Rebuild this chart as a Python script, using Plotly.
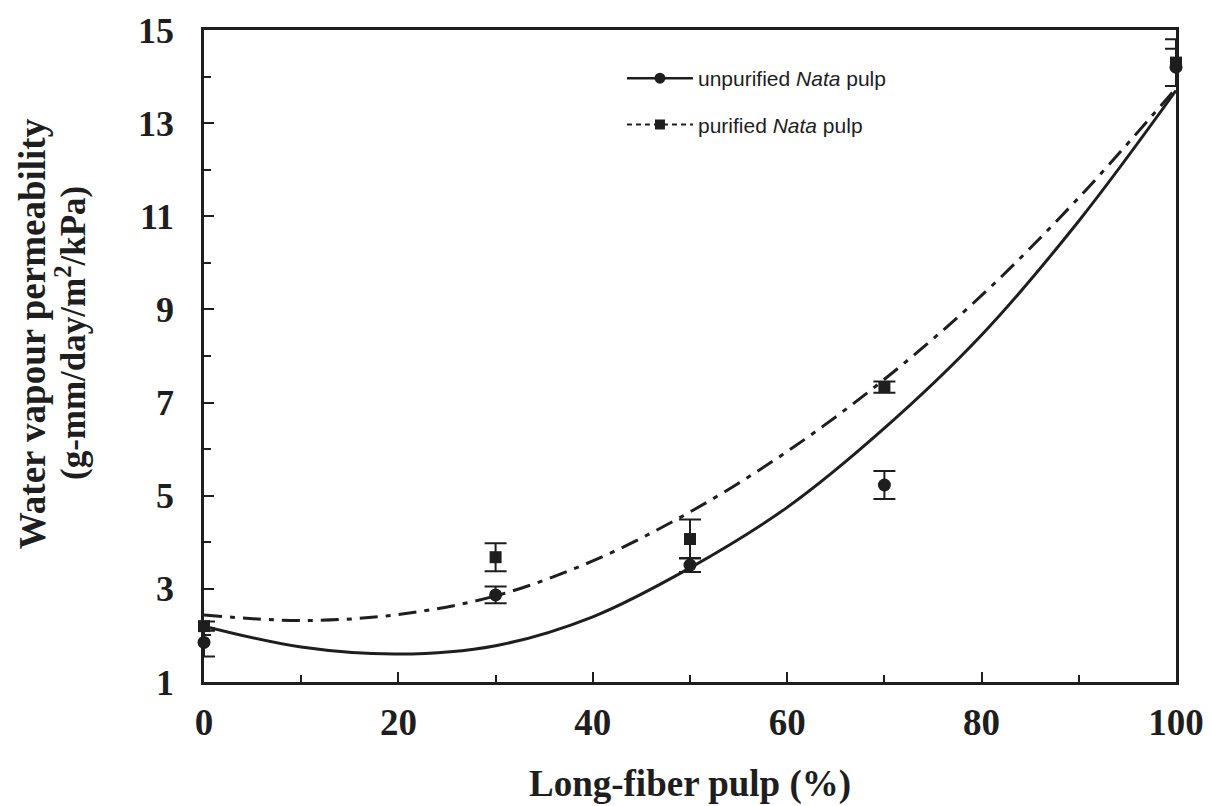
import plotly.graph_objects as go

# measured points
x_pts = [0, 30, 50, 70, 100]
unpurified = [1.85, 2.87, 3.51, 5.23, 14.2]
unpurified_err = [0.3, 0.18, 0.15, 0.3, 0.4]
purified = [2.2, 3.68, 4.07, 7.33, 14.3]
purified_err = [0.1, 0.3, 0.42, 0.12, 0.5]

# fitted curves
x_fit = [0, 10, 20, 30, 40, 50, 60, 70, 80, 90, 100]
unpurified_fit = [2.2, 1.75, 1.6, 1.78, 2.4, 3.45, 4.75, 6.45, 8.45, 10.9, 13.7]
purified_fit = [2.44, 2.32, 2.45, 2.85, 3.6, 4.65, 5.95, 7.5, 9.3, 11.4, 13.75]

x_ticks = [0, 20, 40, 60, 80, 100]
y_ticks = [1, 3, 5, 7, 9, 11, 13, 15]
y_title_lines = ["Water vapour permeability", "(g-mm/day/m<sup>2</sup>/kPa)"]

INK = "#1e1e1e"
SERIF = "Liberation Serif, Times New Roman, serif"
SANS = "Liberation Sans, Arial, sans-serif"

fig = go.Figure()

fig.add_trace(go.Scatter(x=x_fit, y=purified_fit, mode="lines", line=dict(color=INK, width=3, dash="18px,8px,5px,8px"),
                         line_shape="spline", showlegend=False, hoverinfo="skip"))
fig.add_trace(go.Scatter(x=x_fit, y=unpurified_fit, mode="lines", line=dict(color=INK, width=3),
                         line_shape="spline", showlegend=False, hoverinfo="skip"))

fig.add_trace(go.Scatter(x=x_pts, y=unpurified, mode="markers", cliponaxis=False,
                         marker=dict(symbol="circle", size=13, color=INK),
                         error_y=dict(type="data", array=unpurified_err, color=INK, thickness=2, width=11),
                         showlegend=False))
fig.add_trace(go.Scatter(x=x_pts, y=purified, mode="markers", cliponaxis=False,
                         marker=dict(symbol="square", size=12, color=INK),
                         error_y=dict(type="data", array=purified_err, color=INK, thickness=2, width=11),
                         showlegend=False))

# legend entries
fig.add_trace(go.Scatter(x=[None], y=[None], mode="lines+markers", name="unpurified <i>Nata</i> pulp",
                         legendgroup="a",
                         line=dict(color=INK, width=2.5), marker=dict(symbol="circle", size=11, color=INK)))
fig.add_trace(go.Scatter(x=[None], y=[None], mode="lines+markers", name="purified <i>Nata</i> pulp",
                         legendgroup="b",
                         line=dict(color=INK, width=2, dash="5px,4px"), marker=dict(symbol="square", size=10, color=INK)))

fig.update_layout(
    width=1205, height=798,
    margin=dict(l=196, r=37, t=22, b=124),
    paper_bgcolor="white", plot_bgcolor="white",
    showlegend=True,
    legend=dict(x=0.43, y=0.957, xanchor="left", yanchor="top", bgcolor="rgba(0,0,0,0)",
                font=dict(family=SANS, size=21, color=INK), tracegroupgap=16, itemwidth=66),
)

# y-axis title, two lines placed separately
for i, (line, xpos) in enumerate(zip(y_title_lines, [-0.177, -0.137])):
    fig.add_annotation(text="<b>" + line + "</b>", xref="paper", yref="paper", x=xpos, y=0.535,
                       xanchor="center", yanchor="middle", textangle=-90, showarrow=False,
                       font=dict(family=SERIF, size=37 if i == 0 else 35, color=INK))

fig.update_xaxes(range=[0, 100], tickvals=x_ticks, ticks="inside", ticklen=10, tickwidth=2, tickcolor=INK,
                 minor=dict(dtick=10, ticks="inside", ticklen=7, tickwidth=1.5, tickcolor=INK),
                 showline=True, linecolor=INK, linewidth=2.5, mirror=True, showgrid=False, zeroline=False,
                 ticklabelstandoff=6, automargin=False,
                 tickfont=dict(family=SERIF, size=37, color=INK, weight="bold"),
                 title=dict(text="<b>Long-fiber pulp (%)</b>", font=dict(family=SERIF, size=37, color=INK), standoff=28))

fig.update_yaxes(range=[1, 15], tickvals=y_ticks, ticks="inside", ticklen=10, tickwidth=2, tickcolor=INK,
                 minor=dict(dtick=1, tick0=1, ticks="inside", ticklen=7, tickwidth=1.5, tickcolor=INK),
                 showline=True, linecolor=INK, linewidth=2.5, mirror=True, showgrid=False, zeroline=False,
                 ticklabelstandoff=20, automargin=False,
                 tickfont=dict(family=SERIF, size=36, color=INK, weight="bold"))

fig.write_html("out.html")
